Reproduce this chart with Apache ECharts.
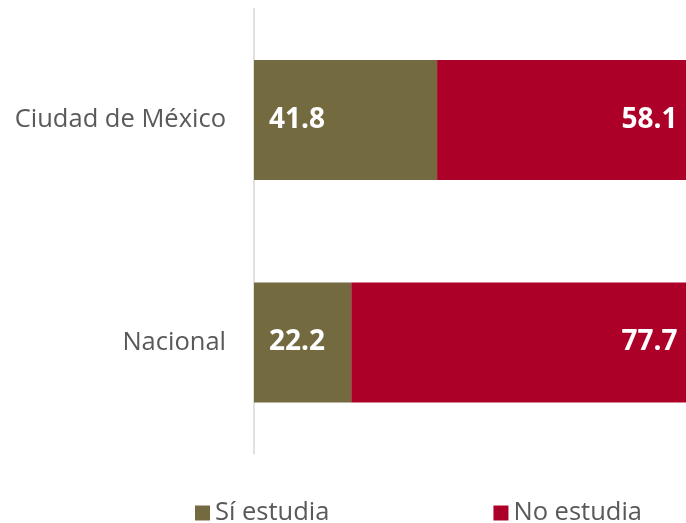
<!DOCTYPE html>
<html>
<head>
<meta charset="utf-8">
<script src="https://cdn.jsdelivr.net/npm/echarts@6/dist/echarts.min.js"></script>
<style>html,body{margin:0;padding:0;background:#fff}#c{width:686px;height:523px}</style>
</head>
<body>
<div id="c"></div>
<script>
var categories = ['Ciudad de México', 'Nacional'];
var siEstudia = [41.8, 22.2];
var noEstudia = [58.1, 77.7];
var seriesNames = ['Sí estudia', 'No estudia'];

var chart = echarts.init(document.getElementById('c'), null, {renderer: 'canvas'});
var labelCommon = {
  show: true,
  color: '#ffffff',
  fontFamily: 'Open Sans',
  fontWeight: 'bold',
  fontSize: 28,
  formatter: function (p) { return p.value.toFixed(1); }
};
chart.setOption({
  animation: false,
  backgroundColor: '#ffffff',
  grid: {left: 254, width: 438, top: 8.75, bottom: 69.25, containLabel: false, outerBoundsMode: 'none'},
  legend: {
    left: 190,
    top: 495,
    itemWidth: 15,
    itemHeight: 15,
    itemGap: 164,
    icon: 'rect',
    textStyle: {fontFamily: 'Open Sans', fontSize: 25.5, color: '#595959', padding: [0, 0, 0, 0]},
    data: seriesNames
  },
  xAxis: {
    type: 'value',
    min: 0,
    max: 100,
    show: false,
    splitLine: {show: false}
  },
  yAxis: {
    type: 'category',
    inverse: true,
    data: categories,
    axisLine: {show: true, lineStyle: {color: '#e0e0e0', width: 2}},
    axisTick: {show: false},
    axisLabel: {fontFamily: 'Open Sans', fontSize: 25.5, color: '#595959', margin: 28}
  },
  series: [
    {
      name: seriesNames[0],
      type: 'bar',
      stack: 'total',
      barWidth: 120,
      data: siEstudia,
      itemStyle: {color: '#736A40'},
      label: Object.assign({}, labelCommon, {position: 'insideLeft', distance: 15})
    },
    {
      name: seriesNames[1],
      type: 'bar',
      stack: 'total',
      barWidth: 120,
      data: noEstudia,
      itemStyle: {color: '#AD0029'},
      label: Object.assign({}, labelCommon, {position: 'insideRight', distance: 14})
    }
  ]
});
</script>
</body>
</html>
